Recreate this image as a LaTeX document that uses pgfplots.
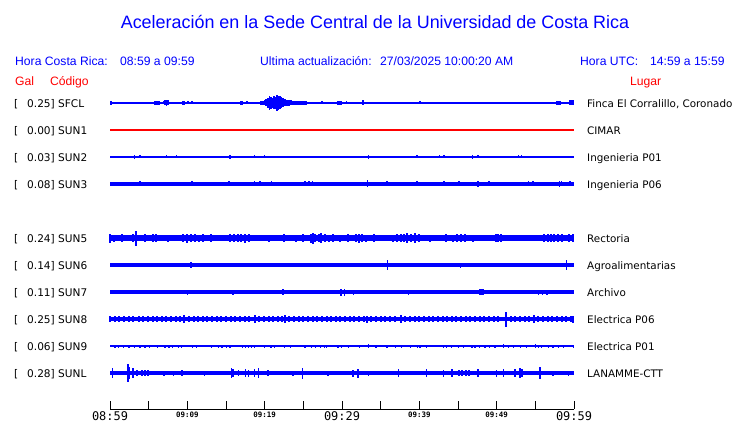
\documentclass[border=0pt]{standalone}
\usepackage{pgfplots}
\pgfplotsset{compat=1.18}
\usepackage{fontspec}
\setmainfont{DejaVu Sans}
\newfontfamily\lib{Liberation Sans}
\newfontfamily\mono{DejaVu Sans Mono}
\definecolor{sblue}{RGB}{0,0,255}
\definecolor{sred}{RGB}{255,0,0}
\newcommand\bigtick{\mono\fontsize{12}{13}\selectfont}
\newcommand\smalltick{\mono\bfseries\fontsize{7.5}{8}\selectfont}
\pgfplotsset{
  spk/.style={draw=none, mark=none, forget plot,
    error bars/.cd, y dir=both, y explicit, error mark=none,
    error bar style={draw=sblue, line width=#1}},
  base/.style={sblue, mark=none, forget plot, line width=#1}
}
\begin{document}
\begin{tikzpicture}[x=1bp,y=1bp]
\path[use as bounding box] (0,0) rectangle (740,423);
\begin{axis}[
  at={(110bp,14bp)}, anchor=south west,
  scale only axis, width=464bp, height=409bp,
  xmin=0, xmax=60, ymin=14, ymax=423,
  clip=false,
  axis x line=bottom, axis y line=none,
  axis line style={-, black, line width=1bp},
  xtick={0,5,...,60},
  xticklabels={{\bigtick 08:59},{},{\smalltick 09:09},{},{\smalltick 09:19},{},{\bigtick 09:29},{},{\smalltick 09:39},{},{\smalltick 09:49},{},{\bigtick 09:59}},
  tick align=inside, major tick length=8bp,
  tick style={black, line width=1bp},
  xticklabel style={anchor=north, inner sep=0pt, yshift=-2.5bp},
]
% ---------- SFCL (baseline 320)
\addplot[base=1.2bp] coordinates {(0,320) (60,320)};
\addplot[spk=1.6bp] table[x=x,y=y,y error=e]{
x y e
0.1 320 2
3.7 320 1.2
5.8 320 2
6.0 320 2
6.2 320 2
6.4 320 2
6.9 320 1.5
7.1 320 2.5
7.3 320 3.2
7.5 320 2.5
9.4 320 2
9.6 320 2
10.1 320 1.5
10.6 320 1.5
11.2 320 1
13.5 320 1
16.9 320 2
17.1 320 2
17.7 320 1.5
18.8 320 1
19.5 320 2
19.8 320 2
20.0 320 2.5
20.2 320 3.5
20.4 320 5
20.6 320 7
20.8 320 6
21.0 320 5
21.2 320 6.5
21.4 320 6
21.6 320 8
21.8 320 7
22.0 320 6.5
22.2 320 5.5
22.4 320 4.5
22.6 320 3.5
22.8 320 3
23.0 320 2.8
23.2 320 3
23.4 320 2.5
23.6 320 2.2
23.8 320 2
24.0 320 2
24.2 320 2
24.4 320 1.8
24.6 320 2
24.8 320 1.8
25.0 320 2
25.2 320 2.2
25.4 320 2
26.4 320 1
27.4 320 1.5
29.5 320 2
29.7 320 2
29.9 320 2
30.6 320 1.5
32.7 320 2.5
40.1 320 1.5
47.5 320 1
57.8 320 2
58.0 320 2
58.2 320 2
59.5 320 2.5
59.7 320 2.5
59.9 320 2.5
};
% ---------- SUN1 (baseline 293)
\addplot[sred, mark=none, line width=1.3bp, forget plot] coordinates {(0,293) (60,293)};
% ---------- SUN2 (baseline 266)
\addplot[base=1.2bp] coordinates {(0,266) (60,266)};
\addplot[spk=1.5bp] table[x=x,y=y,y error=e]{
x y e
3.2 266 2
3.9 266 1.5
7.3 266 1.5
8.6 266 1.5
15.5 266 2
16.6 266 1
17.9 266 1
18.7 266 1.5
19.6 266 1
20.0 266 1.5
25.2 266 1
26.2 266 1
29.8 266 1
33.4 266 2
39.7 266 1.5
42.6 266 1.5
43.2 266 1.5
44.0 266 1
45.0 266 1
46.9 266 2
47.6 266 1.5
49.0 266 1
51.2 266 1
52.8 266 1.5
53.2 266 1.5
54.8 266 1
58.8 266 1
59.3 266 1
};
% ---------- SUN3 (baseline 239)
\addplot[base=3.7bp] coordinates {(0,239) (60,239)};
\addplot[spk=1.5bp] table[x=x,y=y,y error=e]{
x y e
3.9 239 2.5
10.6 239 2.5
15.4 239 2.5
18.7 239 2.5
19.4 239 2.5
20.9 239 2.5
25.2 239 2.5
25.7 239 2.5
26.2 239 2.5
33.3 239 3.5
35.8 239 2.5
39.7 239 2.5
43.2 239 2.5
45.1 239 2.5
47.6 239 3
49.0 239 2.5
54.1 239 2.5
54.7 239 2.5
58.1 239 3
58.4 239 2.5
59.5 239 2.5
};
% ---------- SUN5 (baseline 185)
\addplot[base=5.4bp] coordinates {(0,185) (60,185)};
\addplot[spk=2bp] table[x=x,y=y,y error=e]{
x y e
0 185 4.5
0.5 185 3.5
1 185 3.2
1.5 185 3.8
2 185 3.0
2.5 185 3.4
3 185 3.6
3.4 185 7.5
4 185 3.3
4.5 185 3.8
5 185 3.1
5.5 185 3.6
6 185 3.9
6.5 185 3.2
7 185 3.0
7.5 185 3.5
8 185 3.1
8.5 185 2.9
9 185 3.0
9.5 185 4.0
10 185 4.5
10.5 185 3.8
11 185 4.2
11.5 185 3.5
12 185 3.9
12.5 185 3.3
13 185 3.6
13.5 185 3.2
14 185 3.0
14.5 185 3.4
15 185 3.1
15.5 185 3.7
16 185 4.0
16.5 185 4.2
17 185 3.8
17.5 185 4.5
18 185 3.6
18.5 185 3.2
19 185 3.0
19.5 185 3.3
20 185 3.1
20.5 185 3.5
21 185 3.2
21.5 185 3.4
22 185 3.0
22.5 185 3.6
23 185 3.3
23.5 185 3.1
24 185 3.5
24.5 185 3.2
25 185 3.7
25.5 185 3.3
26 185 4.5
26.2 185 5.5
26.5 185 4.2
27 185 3.8
27.3 185 5.0
27.8 185 3.9
28.3 185 3.5
28.8 185 3.8
29.3 185 3.2
29.8 185 3.5
30.3 185 3.3
30.8 185 3.6
31.3 185 3.2
31.8 185 3.9
32.2 185 4.5
32.6 185 4.0
33.1 185 3.5
33.6 185 3.2
34.1 185 3.6
34.6 185 3.3
35.1 185 3.4
35.6 185 3.1
36.1 185 3.3
36.6 185 3.5
37.1 185 3.8
37.6 185 4.0
38.0 185 3.7
38.4 185 4.8
38.9 185 4.0
39.4 185 4.6
39.9 185 3.8
40.4 185 3.4
40.9 185 3.2
41.4 185 3.5
41.9 185 3.3
42.4 185 3.1
42.9 185 3.4
43.4 185 3.6
43.9 185 3.2
44.4 185 3.5
44.9 185 3.8
45.4 185 4.3
45.9 185 3.6
46.4 185 3.3
46.9 185 3.5
47.4 185 3.2
47.9 185 3.4
48.4 185 3.1
48.9 185 3.3
49.4 185 3.2
49.9 185 3.6
50.2 185 4.3
50.6 185 3.7
51.1 185 3.3
51.6 185 3.1
52.1 185 3.4
52.6 185 3.0
53.1 185 3.2
53.6 185 3.1
54.1 185 3.3
54.6 185 3.0
55.1 185 3.2
55.6 185 3.4
56.1 185 3.6
56.6 185 4.0
57.0 185 4.3
57.4 185 3.8
57.9 185 4.1
58.4 185 3.6
58.9 185 3.4
59.4 185 4.0
59.9 185 4.2
};
% ---------- SUN6 (baseline 158)
\addplot[base=3.3bp] coordinates {(0,158) (60,158)};
\addplot[spk=1.5bp] table[x=x,y=y,y error=e]{
x y e
0.1 158 2.4
10.5 158 3
17.2 158 2
20.3 158 2
21.0 158 2
22.2 158 2
23.5 158 2
26.6 158 2
27.6 158 2
28.7 158 2
30.1 158 2
31.9 158 2
33.8 158 2
35.9 158 5
36.8 158 2
39.4 158 2
42.0 158 2
45.3 158 2.5
46.4 158 2
47.5 158 2
48.5 158 2
50.2 158 2
51.4 158 2
53.1 158 2
59.0 158 5
};
% ---------- SUN7 (baseline 131)
\addplot[base=3.3bp] coordinates {(0,131) (60,131)};
\addplot[spk=1.5bp] table[x=x,y=y,y error=e]{
x y e
2.2 131 2
10.0 131 2.5
15.9 131 2.5
16.6 131 2
20.0 131 2.2
22.4 131 3
24.3 131 2.2
28.8 131 2.2
29.9 131 3.5
30.3 131 3.5
31.5 131 2.5
38.6 131 2.5
38.9 131 2.2
39.8 131 2.2
44.2 131 2.2
45.5 131 2.2
47.8 131 3
48.0 131 3
48.2 131 3
55.4 131 2.5
55.9 131 2.5
56.5 131 2.5
58.0 131 2.2
};
% ---------- SUN8 (baseline 104)
\addplot[base=4.6bp] coordinates {(0,104) (60,104)};
\addplot[spk=2bp] table[x=x,y=y,y error=e]{
x y e
0 104 3.0
0.6 104 2.8
1.2 104 3.2
1.8 104 2.7
2.4 104 3.0
3.0 104 2.8
3.7 104 3.4
4.3 104 2.9
4.9 104 3.1
5.5 104 2.7
6.1 104 3.0
6.7 104 2.8
7.3 104 3.3
7.9 104 2.9
8.5 104 3.1
9.1 104 2.8
9.6 104 3.6
10.2 104 3.0
10.8 104 2.7
11.4 104 3.1
12.0 104 2.8
12.6 104 3.2
13.2 104 2.9
13.8 104 3.1
14.4 104 2.7
15.0 104 3.0
15.6 104 3.2
16.2 104 2.8
16.8 104 3.1
17.4 104 2.9
18.0 104 3.3
18.7 104 3.6
19.3 104 3.0
19.9 104 2.8
20.5 104 3.1
21.1 104 2.9
21.7 104 3.2
22.3 104 3.0
22.6 104 4.0
23.2 104 2.8
23.8 104 3.1
24.4 104 2.9
25.0 104 3.2
25.6 104 2.7
26.2 104 3.0
26.8 104 2.8
27.4 104 3.1
28.0 104 2.9
28.6 104 3.2
29.2 104 2.8
29.8 104 3.0
30.4 104 2.7
31.0 104 3.1
31.6 104 2.9
32.2 104 3.0
32.8 104 2.8
33.2 104 3.5
33.8 104 3.0
34.4 104 2.8
35.0 104 3.1
35.6 104 2.9
36.2 104 3.2
36.8 104 2.8
37.6 104 4.0
38.2 104 3.0
38.8 104 2.8
39.4 104 3.1
40.0 104 2.9
40.6 104 3.2
41.2 104 2.8
41.8 104 3.0
42.4 104 2.7
43.0 104 3.1
43.6 104 2.9
44.2 104 3.2
44.8 104 2.8
45.4 104 3.0
46.0 104 3.3
46.6 104 2.9
47.2 104 3.1
47.8 104 2.8
48.4 104 3.0
49.0 104 2.9
49.6 104 3.2
50.2 104 2.8
51.2 104 7.5
51.8 104 3.0
52.4 104 2.9
53.0 104 3.1
53.6 104 2.8
54.2 104 3.0
54.8 104 4.0
55.4 104 2.9
56.0 104 3.1
56.6 104 2.8
57.2 104 3.0
57.8 104 3.2
58.4 104 2.9
59.0 104 3.1
59.6 104 3.0
59.9 104 3.5
};
% ---------- SUN9 (baseline 77)
\addplot[base=1.2bp] coordinates {(0,77) (60,77)};
\addplot[spk=1.3bp] table[x=x,y=y,y error=e]{
x y e
0.65 77 1.5
1.08 77 1.5
1.72 77 1.5
2.46 77 1.5
3.15 77 1.5
3.88 77 1.5
4.53 77 1.5
5.09 77 1.5
6.16 77 1.5
7.11 77 1.5
7.63 77 1.5
8.10 77 1.5
8.84 77 1.5
9.27 77 1.5
10.65 77 1.5
11.2 77 1.5
13.1 77 1.5
14.0 77 1.5
14.5 77 1.5
15.1 77 1.5
15.5 77 1.5
17.1 77 1.5
17.5 77 1.5
17.9 77 1.5
18.3 77 1.5
18.7 77 1.5
20.0 77 1.5
20.8 77 1.5
21.3 77 1.5
22.6 77 1.5
23.3 77 1.5
25.2 77 1.5
26.1 77 1.5
26.6 77 1.5
27.2 77 1.5
27.7 77 1.5
28.0 77 1.5
29.5 77 1.5
29.9 77 1.5
30.8 77 1.5
32.3 77 1.5
33.4 77 2
34.4 77 1.5
35.8 77 1.5
36.9 77 1.5
37.7 77 1.5
38.9 77 1.5
39.8 77 1.5
40.1 77 1.5
40.9 77 1.5
43.1 77 1.5
43.5 77 1.5
44.2 77 1.5
45.1 77 1.5
45.7 77 1.5
46.8 77 1.5
47.2 77 1.5
47.8 77 1.5
48.5 77 1.5
49.1 77 1.5
49.8 77 1.5
50.9 77 2
51.5 77 1.5
52.2 77 1.5
53.1 77 1.5
53.9 77 1.5
55.0 77 2
55.4 77 1.5
55.8 77 1.5
56.7 77 1.5
57.3 77 1.5
58.0 77 1.5
58.6 77 1.5
59.9 77 1.5
};
% ---------- SUNL (baseline 50)
\addplot[base=3.6bp] coordinates {(0,50) (60,50)};
\addplot[spk=1.6bp] table[x=x,y=y,y error=e]{
x y e
0.3 50 5
2.3 50 9
2.5 50 6
3.0 50 5
3.5 50 3
4.1 50 3
4.5 50 3
4.9 50 3
7.0 50 2.5
8.2 50 2.5
9.3 50 3
12.2 50 2.5
15.7 50 5
15.9 50 4
16.6 50 3
17.5 50 4
17.9 50 3.5
18.7 50 4
19.2 50 5
20.4 50 3
23.7 50 2.5
24.9 50 5.5
28.2 50 2.5
31.4 50 3.5
32.1 50 4.5
33.4 50 2.5
37.3 50 4
40.9 50 4
43.1 50 3.5
44.2 50 4
45.1 50 3
45.5 50 3
46.0 50 3
46.4 50 3
47.6 50 4
50.0 50 3.5
50.9 50 4
52.4 50 4
53.0 50 5
53.3 50 4
55.6 50 6
57.3 50 2.5
59.3 50 2.5
};
\end{axis}
% ---------- texts
\node[anchor=base, inner sep=0pt, text=sblue, font=\lib\fontsize{18}{20}\selectfont] at (375,394.5) {Aceleración en la Sede Central de la Universidad de Costa Rica};
\begin{scope}[every node/.style={anchor=base west, inner sep=0pt}]
\node[text=sblue, font=\lib\fontsize{12.2}{14}\selectfont] at (15,358) {Hora Costa Rica:};
\node[text=sblue, font=\lib\fontsize{12.2}{14}\selectfont] at (120,358) {08:59 a 09:59};
\node[text=sblue, font=\lib\fontsize{12.2}{14}\selectfont] at (260,358) {Ultima actualización:};
\node[text=sblue, font=\lib\fontsize{12.2}{14}\selectfont] at (380,358) {27/03/2025 10:00:20 AM};
\node[text=sblue, font=\lib\fontsize{12.2}{14}\selectfont] at (580,358) {Hora UTC:};
\node[text=sblue, font=\lib\fontsize{12.2}{14}\selectfont] at (650,358) {14:59 a 15:59};
\node[text=sred, font=\lib\fontsize{12.2}{14}\selectfont] at (15,338) {Gal};
\node[text=sred, font=\lib\fontsize{12.2}{14}\selectfont] at (50,338) {Código};
\node[text=sred, font=\lib\fontsize{12.2}{14}\selectfont] at (630,338) {Lugar};
% left labels
\foreach \yb/\val/\code in {320/0.25/SFCL, 293/0.00/SUN1, 266/0.03/SUN2, 239/0.08/SUN3, 185/0.24/SUN5, 158/0.14/SUN6, 131/0.11/SUN7, 104/0.25/SUN8, 77/0.06/SUN9, 50/0.28/SUNL}{
  \node[font=\fontsize{10.6}{12}\selectfont] at (14,\yb-4.3) {[};
  \node[font=\fontsize{10.6}{12}\selectfont] at (27,\yb-4.3) {\val] \code};
}
% right labels
\foreach \yb/\place in {320/{Finca El Corralillo, Coronado}, 293/CIMAR, 266/Ingenieria P01, 239/Ingenieria P06, 185/Rectoria, 158/Agroalimentarias, 131/Archivo, 104/Electrica P06, 77/Electrica P01, 50/LANAMME-CTT}{
  \node[font=\fontsize{10.4}{12}\selectfont] at (587,\yb-4.3) {\place};
}
\end{scope}
\end{tikzpicture}
\end{document}
